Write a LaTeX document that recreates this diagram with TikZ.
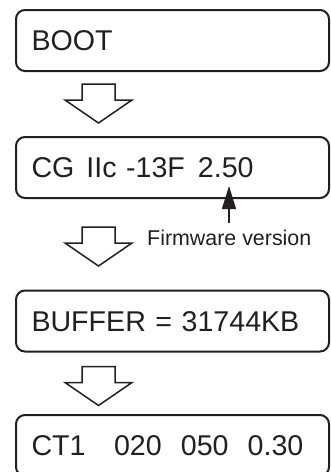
\documentclass[tikz,border=0pt]{standalone}
\usepackage{fontspec}
\setmainfont{Liberation Sans}
\usetikzlibrary{arrows.meta,calc}
\definecolor{ink}{HTML}{231F20}
\begin{document}
\begin{tikzpicture}[x=1pt,y=-1pt,
  screen/.style={draw=ink, line width=2pt, rounded corners=9pt,
    minimum width=313pt, minimum height=61pt, inner xsep=15.5pt, inner ysep=0pt,
    text width=282pt, align=left, text=ink, text height=20.6pt, text depth=0pt,
    font=\fontsize{28.6}{34}\selectfont},
  hollow/.style={draw=ink, line width=1.5pt, fill=white, line join=miter},
  fwarrow/.style={draw=ink, line width=1.4pt, -{Triangle[length=23pt,width=14pt]}},
  fwlabel/.style={text=ink, inner sep=0pt, font=\fontsize{21.4}{25}\selectfont},
  hollowdown/.pic={\path[hollow] (-16.5,0) -- (16.5,0) -- (16.5,16) -- (33.5,16) -- (0,39) -- (-33.5,16) -- (-16.5,16) -- cycle;}
]
\useasboundingbox (0,0) rectangle (331,472);
\clip (0,0) rectangle (331,472);

\node[screen] (boot) at (172.5,40.5) {BOOT};
\node[screen] (cg) at (172.5,167.5) {CG\hspace{12pt}IIc -13F\hspace{13pt}2.50};
\node[screen] (buf) at (172.5,321) {BUFFER = 31744KB};
\node[screen] (ct) at (172.5,445.5) {CT1\ \ \ 020\ \ 050\ \ 0.30};

\pic at ($(boot.south west)+(83.5,12)$) {hollowdown};
\pic at ($(cg.south west)+(83.5,28)$) {hollowdown};
\pic at ($(buf.south west)+(83.5,14)$) {hollowdown};

\node[fwlabel, anchor=base west] (fw) at (147,245) {Firmware version};
\coordinate (fwtip) at (229,186);
\coordinate (fwtail) at (229,223);
\draw[fwarrow] (fwtail) -- (fwtip);
\end{tikzpicture}
\end{document}
